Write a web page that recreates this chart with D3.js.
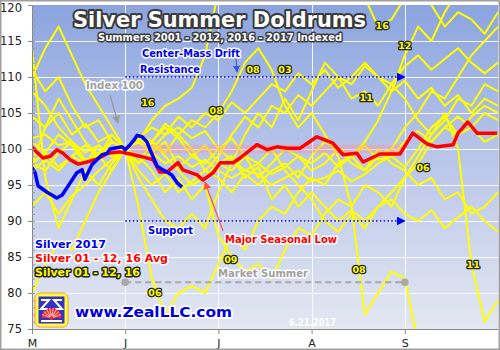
<!DOCTYPE html>
<html><head><meta charset="utf-8">
<script src="https://cdn.jsdelivr.net/npm/d3@7"></script>
<style>body{margin:0;background:#fff} svg{display:block}</style>
</head><body>
<svg id="c" width="500" height="350"></svg>
<script>
// ---- data ----
const days = d3.range(0, 106, 3); // trading days from May 1 (36 samples)
const monthTicks = [0, 21, 42, 63, 84];
const monthLabels = ["M", "J", "J", "A", "S"];
const yTicks = [75, 80, 85, 90, 95, 100, 105, 110, 115, 120];

const y2001 = [101.5,102,100.5,101,99.5,100.5,99,100,101,99.5,98,99,97.5,98.5,97,96,97,96.5,95,96,97,95.5,96,97,95.5,96.5,98,99,97.5,100,103,104.5,102,103,101,102];
const y2002 = [97,98.5,97,99,100.5,99,101,100,102,101,103,101.5,99,100.5,98,99,96,97.5,93,95,92,94,92,90,91.5,90,92,93,91,90,91.5,89,90.5,92,90,88.5];
const y2003 = [104.5,103,105,102,103.5,101,102,100,101.5,103,102,104.5,103,105,104,106.5,105,107,109,108,110.5,109,111,108.5,110,112,110,109,111.5,113,111,112.5,114,112,110.5,112];
const y2004 = [92,94,91,93.5,95,97,98.5,100,97,95,96.5,94,95.5,97,99,102,104.5,103,106,105,107.5,106,108,110,109,111.5,110,108,109.5,107,108.5,106,107.5,105,107,106];
const y2005 = [98,99.5,97.5,99,98,100.5,99,100,101.5,100,102,103,101.5,102.5,100,98.5,97,98,96.5,97.5,99,98,99.5,97.5,99,100.5,98.5,99,101,102.5,101,103,104.5,103,105,104];
const y2006 = [110,114,117,113,109,106,103,100,92,82,77,80,81,80,84,88,86,90,92,91,94,96,95,98,99,97,100,98,97,95,96,93,94,91,92,94];
const y2007 = [101,99.5,102,100.5,98,99.5,101,100,98,99.5,101,97.5,99,98,100,101.5,99,98,100,97,95,93,90,88.5,91,89,92,94,96,98,101,103,102,104.5,106,105];
const y2008 = [98,97,99.5,101,98.5,99,101,100,102,101,103.5,102,104,103,105,108,112,114,111,106,103,105,102,99,92,77,80,83,82,73,71,69,72,70,68,70];
const y2009 = [80,84,87,86,90,94,97,100,99,97,94,96,93,95,88,85,83,84,82,86,89,88,91,93,92,95,94,92,96,99,102,104,107,106,109,108];
const y2010 = [98,103,107,104,101,99,102,100,98,101,99.5,102,100,97,96,94,96.5,95,97,98,96,99,101,100,98,97,99,100,103,105,108,107,110,113,115,117];
const y2011 = [114,96,89,93,97,95,98,100,96,93,90,89,91,89,94,98,102,105,103,107,104,108,112,110,107,108,106,109,107,104,102,105,100,84,76,79];
const y2012 = [108,106,103,101,98,99,97,100,98,101,99,97,95,96,98,97,99,96,98,100,99,97,98,100,99,101,104,108,113,117,115,119,122,121,123,122];
const y2016 = [111,108,110,106,103,104,101,100,101,104,106,107,108.5,113,122,126,129,131,128,126,125,127,124,122,125,121,117,118,121,124,120,117,119,118,116,119];

const avgDays   = [0,1.35,2.5,4.1,5.6,7.0,8.6,10.4,12.4,14.6,17.1,19.8,22.1,25.0,27.3,28.8,30.4,32.9,34.0,37.2,38.5,40.8,42.4,45.3,46.9,50.7,53.0,55.2,57.5,60.4,64.2,67.8,70.1,73.2,74.6,78.4,82.9,85.8,89.0,91.3,94.9,96.0,98.2,100.3,102.5,104.8];
const avgValues = [100.3,99.4,98.75,99.0,99.9,99.4,98.5,97.9,98.2,98.6,99.4,99.6,99.3,98.9,98.5,96.8,96.8,98.1,97.1,96.4,95.7,96.7,98.1,98.1,98.75,100.6,99.9,100.3,100.1,100.1,101.7,100.8,99.2,99.4,98.2,99.3,99.3,102.2,100.7,100.3,100.6,102.2,103.75,102.2,102.2,102.2];

const s2017Days   = [0,0.7,1.35,3.4,5.6,6.8,8.6,10.1,11.3,11.9,13.5,14.6,15.8,16.9,17.6,20.3,21.0,22.1,23.0,23.7,24.8,25.9,26.6,27.3,28.2,29.5,30.4,31.5,32.7,33.8];
const s2017Values = [97.4,96.7,94.9,94.0,93.2,93.6,95.3,96.7,97.1,95.8,97.8,98.5,99.2,99.4,100,100.3,99.9,100.6,101.25,101.9,101.7,101.0,99.9,98.9,97.6,97.1,96.8,96.4,95.3,94.7];

const yearLabelText  = ["16","08","08","03","16","12","11","06","09","08","11","06"];
const yearLabelDay   = [26.1,41.5,49.8,57.0,78.9,84.0,75.3,88.1,44.8,73.7,99.4,27.7];
const yearLabelValue = [106.5,105.3,111.0,111.0,117.1,114.4,107.1,97.5,84.7,83.3,83.9,80.1];

const resistanceLevel = 110, supportLevel = 90, marketSummerLevel = 81.5;
const driftStartDay = 21, driftEndDay = 84;

// ---- drawing ----
const W = 500, H = 350;
const L = 32, R = 498, T = 5, B = 329;
const x = d3.scaleLinear([0, 105], [L, R]);
const y = d3.scaleLinear([75, 120], [B, T]);
const FONT = "'DejaVu Sans', Verdana, sans-serif";

const svg = d3.select("#c");
const defs = svg.append("defs");
const grad = defs.append("linearGradient").attr("id","bg").attr("x1",0).attr("y1",0).attr("x2",0).attr("y2",1);
grad.append("stop").attr("offset","0%").attr("stop-color","#8ba4df");
grad.append("stop").attr("offset","50%").attr("stop-color","#bcc8ea");
grad.append("stop").attr("offset","100%").attr("stop-color","#e3e7f1");
defs.append("clipPath").attr("id","plot").append("rect").attr("x",L).attr("y",T).attr("width",R-L).attr("height",B-T);
function marker(id, color, size){
  defs.append("marker").attr("id",id).attr("viewBox","0 0 10 10").attr("refX",9).attr("refY",5)
    .attr("markerWidth",size).attr("markerHeight",size).attr("markerUnits","userSpaceOnUse").attr("orient","auto")
    .append("path").attr("d","M0,0 L10,5 L0,10 z").attr("fill",color);
}
marker("mb","#0000ee",9); marker("mg","#9a9a9a",8); marker("mr","#ff5050",8); marker("mb2","#3355dd",7);

svg.append("rect").attr("width",W).attr("height",H).attr("fill","#fff");
svg.append("rect").attr("x",L).attr("y",T).attr("width",R-L).attr("height",B-T).attr("fill","url(#bg)");

// grid
const grid = svg.append("g").attr("stroke","#ffffff").attr("stroke-width",1).attr("opacity",0.9);
grid.selectAll(".h").data(yTicks.filter(v=>v>75&&v<120)).join("line")
  .attr("x1",L).attr("x2",R).attr("y1",d=>y(d)+0.5).attr("y2",d=>y(d)+0.5);
grid.selectAll(".v").data(monthTicks.slice(1)).join("line")
  .attr("y1",T).attr("y2",B).attr("x1",d=>Math.round(x(d))+0.5).attr("x2",d=>Math.round(x(d))+0.5);

const plot = svg.append("g").attr("clip-path","url(#plot)");
const yearly = [y2001,y2002,y2003,y2004,y2005,y2006,y2007,y2008,y2009,y2010,y2011,y2012,y2016];
const lineGrid = d3.line().x((d,i)=>x(days[i])).y(d=>y(d));
plot.selectAll(".yl").data(yearly).join("path")
  .attr("d",lineGrid).attr("fill","none").attr("stroke","#ffff00").attr("stroke-width",2).attr("stroke-linejoin","round");

// pink index band
plot.append("rect").attr("x",x(22)).attr("width",x(83)-x(22))
  .attr("y",y(100.6)).attr("height",y(99.4)-y(100.6)).attr("fill","#ff9090").attr("opacity",0.35);

const linePairs = (xs) => d3.line().x((d,i)=>x(xs[i])).y(d=>y(d));
plot.append("path").attr("d",linePairs(avgDays)(avgValues)).attr("fill","none")
  .attr("stroke","#ff0000").attr("stroke-width",3.5).attr("stroke-linejoin","round");
plot.append("path").attr("d",linePairs(s2017Days)(s2017Values)).attr("fill","none")
  .attr("stroke","#0000ff").attr("stroke-width",3.5).attr("stroke-linejoin","round");

// axes
const axL = svg.append("g").attr("transform",`translate(${L},0)`)
  .call(d3.axisLeft(y).tickValues(yTicks).tickSize(4).tickPadding(6));
axL.selectAll("text").attr("font-family",FONT).attr("font-size",11.5).attr("fill","#222")
  .attr("dy",d=>d===120?"0.6em":"0.32em");
axL.selectAll("line").attr("stroke","#888");
axL.select(".domain").attr("stroke","#888");
const axM = svg.append("g").attr("transform",`translate(${L},0)`)
  .call(d3.axisRight(y).tickValues(d3.range(75,121,1)).tickSize(3).tickFormat(""));
axM.selectAll("line").attr("stroke","#999"); axM.select(".domain").remove();
const axB = svg.append("g").attr("transform",`translate(0,${B})`)
  .call(d3.axisBottom(x).tickValues(monthTicks).tickFormat((d,i)=>monthLabels[i]).tickSize(5).tickPadding(5).tickSizeOuter(0));
axB.selectAll("text").attr("font-family",FONT).attr("font-size",11).attr("fill","#222");
axB.selectAll("line").attr("stroke","#888");
axB.select(".domain").attr("stroke","#888");

// annotations
function txt(s, px, py, opt){
  const t = svg.append("text").attr("x",px).attr("y",py).text(s)
    .attr("font-family",FONT).attr("font-weight","bold").attr("font-size",opt.size||10)
    .attr("fill",opt.fill).attr("stroke",opt.stroke||"#fff").attr("stroke-width",opt.sw||3)
    .attr("paint-order","stroke").attr("stroke-linejoin","round")
    .attr("text-anchor",opt.anchor||"start");
  if(opt.len) t.attr("textLength",opt.len).attr("lengthAdjust","spacingAndGlyphs");
  if(opt.db) t.attr("dominant-baseline",opt.db);
  return t;
}

// resistance / support
svg.append("line").attr("x1",x(driftStartDay)).attr("x2",x(driftEndDay)).attr("y1",y(resistanceLevel)).attr("y2",y(resistanceLevel))
  .attr("stroke","#0000ee").attr("stroke-width",1.6).attr("stroke-dasharray","1.6,2.2").attr("marker-end","url(#mb)");
svg.append("line").attr("x1",x(driftStartDay)).attr("x2",x(driftEndDay)).attr("y1",y(supportLevel)).attr("y2",y(supportLevel))
  .attr("stroke","#0000ee").attr("stroke-width",1.6).attr("stroke-dasharray","1.6,2.2").attr("marker-end","url(#mb)");
// market summer
svg.append("line").attr("x1",x(driftStartDay)).attr("x2",x(driftEndDay)).attr("y1",y(marketSummerLevel)).attr("y2",y(marketSummerLevel))
  .attr("stroke","#a8a8a8").attr("stroke-width",2).attr("stroke-dasharray","6,4");
svg.selectAll(".ms").data([driftStartDay,driftEndDay]).join("circle")
  .attr("cx",d=>x(d)).attr("cy",y(marketSummerLevel)).attr("r",3.8).attr("fill","#a8a8a8");

// arrows
svg.append("line").attr("x1",236).attr("y1",59).attr("x2",237).attr("y2",72).attr("stroke","#3355dd").attr("stroke-width",1).attr("marker-end","url(#mb2)");
svg.append("line").attr("x1",110).attr("y1",95).attr("x2",118).attr("y2",123).attr("stroke","#9a9a9a").attr("stroke-width",1.2).attr("marker-end","url(#mg)");
svg.append("line").attr("x1",223).attr("y1",231).attr("x2",205).attr("y2",182).attr("stroke","#ff5050").attr("stroke-width",1.2).attr("marker-end","url(#mr)");

// year labels
yearLabelText.forEach((s,i)=>{
  txt(s, x(yearLabelDay[i]), y(yearLabelValue[i]), {size:9.5, fill:"#ffff00", stroke:"#222", sw:2.6, anchor:"middle", db:"central"});
});

// title
txt("Silver Summer Doldrums", 73, 27, {size:21, fill:"#ffffff", stroke:"#3a3a3a", sw:4, len:293});
txt("Summers 2001 - 2012, 2016 - 2017 Indexed", 98, 41, {size:10.5, fill:"#ffffff", stroke:"#3a3a3a", sw:3, len:244});
txt("Center-Mass Drift", 142, 57, {size:10, fill:"#0000ee", len:98});
txt("Resistance", 140, 73, {size:10, fill:"#0000ee", len:60});
txt("Index 100", 86, 89, {size:10.5, fill:"#a0a0a0", len:57});
txt("Support", 148, 234, {size:10, fill:"#0000ee", len:45});
txt("Major Seasonal Low", 225, 243, {size:10.5, fill:"#ff0000", len:112});
txt("Market Summer", 218, 277, {size:10.5, fill:"#a0a0a0", len:90});

// legend
txt("Silver 2017", 35, 248, {size:11, fill:"#0000ee", len:71});
txt("Silver 01 - 12, 16 Avg", 35, 262, {size:11, fill:"#ff0000", len:133});
txt("Silver 01 - 12, 16", 35, 276, {size:11, fill:"#ffff00", stroke:"#222", sw:3, len:105});

// logo
const lg = svg.append("g").attr("transform","translate(35,293)");
lg.append("rect").attr("width",33).attr("height",34).attr("rx",5).attr("fill","#ffff40").attr("stroke","#ff9a30").attr("stroke-width",1);
lg.append("rect").attr("x",3.5).attr("y",3.5).attr("width",26).attr("height",27).attr("fill","#3434c4");
lg.append("path").attr("d","M6,7 H14 L6,16 H13 M27,7 H19 L27,16 H20 M6,28 H27").attr("fill","none").attr("stroke","#fff").attr("stroke-width",2);
lg.append("path").attr("d","M6.5,25 A10,10 0 0 1 26.5,25 Z").attr("fill","#ff2020");
[200,220,240,260,280,300,320,340].forEach(a=>{
  const r=a*Math.PI/180;
  lg.append("line").attr("x1",16.5).attr("y1",25).attr("x2",16.5+10*Math.cos(r)).attr("y2",25+10*Math.sin(r)).attr("stroke","#fff").attr("stroke-width",0.8);
});
lg.append("circle").attr("cx",16.5).attr("cy",25).attr("r",2).attr("fill","#ff2020");

txt("www.ZealLLC.com", 75, 317, {size:14.5, fill:"#0000dd", stroke:"#fff", sw:3.5, len:157});
txt("6.21.2017", 289, 326, {size:10, fill:"#ffffff", stroke:"none", sw:0, len:47});

// frame
svg.append("rect").attr("x",0.75).attr("y",0.75).attr("width",W-1.5).attr("height",H-1.5).attr("fill","none").attr("stroke","#a0a0a0").attr("stroke-width",1.5);
</script>
</body></html>
